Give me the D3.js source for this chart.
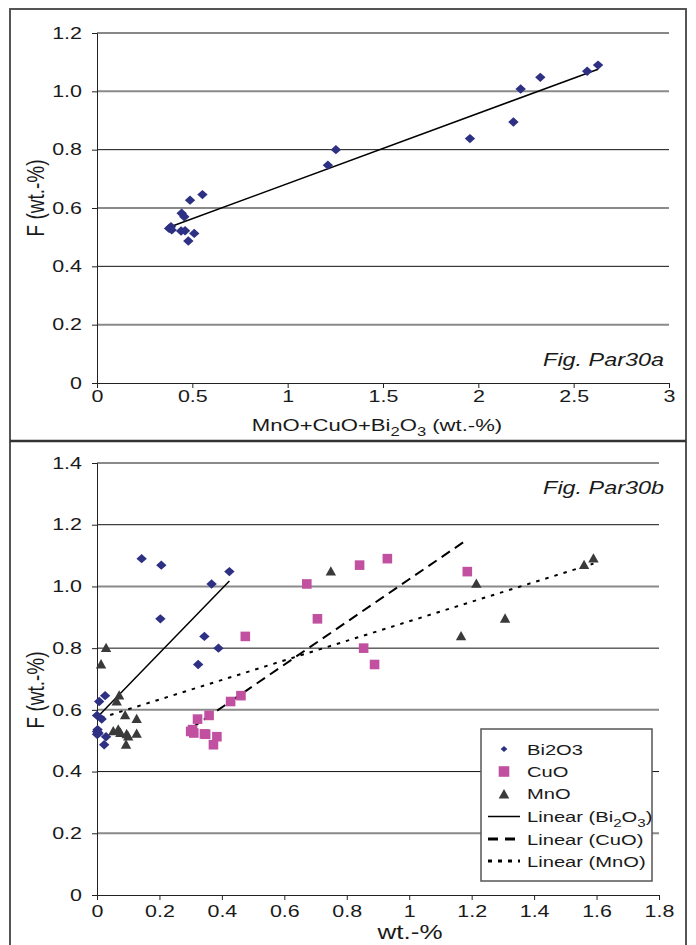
<!DOCTYPE html>
<html>
<head>
<meta charset="utf-8">
<script src="https://cdn.jsdelivr.net/npm/d3@7"></script>
<style>
  body { margin: 0; background: #fff; }
  svg { display: block; font-family: 'Liberation Sans', Arial, sans-serif; }
</style>
</head>
<body>
<svg id="chart"></svg>
<script>
// F content of each sample (wt.-%), same samples in both panels
const fluorine = [1.090, 1.069, 1.048, 1.008, 0.895, 0.838, 0.800, 0.747, 0.646, 0.627,
                  0.582, 0.570, 0.536, 0.530, 0.525, 0.522, 0.521, 0.513, 0.487];
// MnO+CuO+Bi2O3 sum (panel a)
const oxideSum = [2.628, 2.571, 2.325, 2.222, 2.184, 1.956, 1.253, 1.211, 0.553, 0.488,
                  0.444, 0.458, 0.388, 0.378, 0.392, 0.462, 0.441, 0.510, 0.479];
// single oxides (panel b)
const bi2o3 = [0.143, 0.206, 0.424, 0.367, 0.203, 0.344, 0.389, 0.324, 0.026, 0.007,
               0.000, 0.015, 0.002, 0.000, 0.005, 0.003, 0.000, 0.029, 0.023];
const cuo = [0.930, 0.841, 1.186, 0.672, 0.706, 0.475, 0.854, 0.889, 0.461, 0.428,
             0.359, 0.322, 0.306, 0.300, 0.310, 0.344, 0.348, 0.384, 0.373];
const mno = [1.590, 1.560, 0.749, 1.215, 1.307, 1.166, 0.029, 0.013, 0.071, 0.063,
             0.090, 0.127, 0.068, 0.052, 0.075, 0.127, 0.095, 0.100, 0.093];

const topXTicks = [0, 0.5, 1, 1.5, 2, 2.5, 3];
const topYTicks = [0, 0.2, 0.4, 0.6, 0.8, 1.0, 1.2];
const botXTicks = [0, 0.2, 0.4, 0.6, 0.8, 1.0, 1.2, 1.4, 1.6, 1.8];
const botYTicks = [0, 0.2, 0.4, 0.6, 0.8, 1.0, 1.2, 1.4];

const seriesNames = ['Bi2O3', 'CuO', 'MnO'];
const trendNames = [[['Linear (Bi'], ['2', 1], ['O'], ['3', 1], [')']],
                    [['Linear (CuO)']],
                    [['Linear (MnO)']]];

const width = 696;
const height = 945;
const SX = 1.3;   // the original figure's lettering is stretched sideways

const colors = { diamond: '#2E3083', square: '#C150A0', triangle: '#3A3A3A' };

const svg = d3.select('#chart').attr('width', width).attr('height', height);

// outer frame and panel divider
svg.append('rect')
    .attr('x', 10).attr('y', 9).attr('width', 676).attr('height', 960)
    .attr('fill', 'none').attr('stroke', '#555').attr('stroke-width', 2);
svg.append('line')
    .attr('x1', 10).attr('x2', 686).attr('y1', 441).attr('y2', 441)
    .attr('stroke', '#333').attr('stroke-width', 2.5);

// text with optional subscripts, stretched horizontally
const label = (parent, x, y, parts, opts = {}) => {
    let tf = `translate(${x},${y}) scale(${SX},1)`;
    if (opts.rotate) tf += ' rotate(-90)';
    const size = opts.size || 16;
    const t = parent.append('text')
        .attr('transform', tf)
        .attr('text-anchor', opts.anchor || 'start')
        .attr('font-size', size)
        .attr('font-style', opts.italic ? 'italic' : 'normal')
        .attr('fill', '#1a1a1a');
    let shifted = false;
    parts.forEach(p => {
        const ts = t.append('tspan').text(p[0]);
        if (p[1] && !shifted) { ts.attr('dy', size * 0.3).attr('font-size', size * 0.75); shifted = true; }
        else if (p[1]) { ts.attr('font-size', size * 0.75); }
        else if (shifted) { ts.attr('dy', -size * 0.3); shifted = false; }
    });
    return t;
};

const markerPath = (shape, s) => {
    if (shape === 'diamond') return `M0,${-s * 0.9}L${s},0L0,${s * 0.9}L${-s},0Z`;
    if (shape === 'square') return `M${-s},${-s}H${s}V${s}H${-s}Z`;
    return `M0,${-s * 1.05}L${s},${s * 0.75}L${-s},${s * 0.75}Z`;
};

const fit = (xs, ys) => {
    const mx = d3.mean(xs), my = d3.mean(ys);
    const b = d3.sum(xs, (x, i) => (x - mx) * (ys[i] - my)) / d3.sum(xs, x => (x - mx) ** 2);
    const a = my - b * mx;
    const [x0, x1] = d3.extent(xs);
    return [[x0, a + b * x0], [x1, a + b * x1]];
};

const tickFmt = d => d === 0 ? '0' : String(+d.toFixed(1));
const yFmt = d => d === 0 ? '0' : d3.format('.1f')(d);

const drawPanel = (p) => {
    const g = svg.append('g');
    const x = d3.scaleLinear().domain(p.xDomain).range(p.xRange);
    const y = d3.scaleLinear().domain(p.yDomain).range(p.yRange);

    // grid
    g.selectAll('.grid')
        .data(p.yTicks.slice(1))
        .enter().append('line')
        .attr('x1', p.xRange[0]).attr('x2', p.xRange[1])
        .attr('y1', d => y(d)).attr('y2', d => y(d))
        .attr('stroke', (d, i) => i % 2 === 0 ? '#8a8a8a' : '#111')
        .attr('stroke-width', (d, i) => i % 2 === 0 ? 2 : 1);

    const yAxis = g.append('g')
        .attr('transform', `translate(${p.xRange[0]},0)`)
        .call(d3.axisLeft(y).tickValues(p.yTicks).tickSize(5).tickFormat(yFmt));
    const xAxis = g.append('g')
        .attr('transform', `translate(0,${p.yRange[0]})`)
        .call(d3.axisBottom(x).tickValues(p.xTicks).tickSize(5).tickFormat(tickFmt));

    [yAxis, xAxis].forEach(ax => {
        ax.select('.domain').attr('stroke', '#222');
        ax.selectAll('.tick line').attr('stroke', '#222');
        ax.selectAll('text').attr('font-size', 16.5).attr('fill', '#1a1a1a')
            .attr('font-family', "'Liberation Sans', Arial, sans-serif");
    });
    yAxis.selectAll('text').attr('x', -15 / SX).attr('transform', `scale(${SX},1)`);
    xAxis.selectAll('text').attr('y', p.xLabelOffset).attr('transform', `scale(${SX},1)`);

    return { g, x, y };
};

// ---------- panel a ----------
const a = drawPanel({
    xDomain: [0, 3], xRange: [97, 669],
    yDomain: [0, 1.2], yRange: [383, 33],
    xTicks: topXTicks, yTicks: topYTicks, xLabelOffset: 7
});

const fitA = fit(oxideSum, fluorine);
a.g.append('line')
    .attr('x1', a.x(fitA[0][0])).attr('y1', a.y(fitA[0][1]))
    .attr('x2', a.x(fitA[1][0])).attr('y2', a.y(fitA[1][1]))
    .attr('stroke', '#000').attr('stroke-width', 1.5);

a.g.selectAll('.pa')
    .data(oxideSum)
    .enter().append('path')
    .attr('d', markerPath('diamond', 5.2))
    .attr('transform', (d, i) => `translate(${a.x(d)},${a.y(fluorine[i])})`)
    .attr('fill', colors.diamond);

label(svg, 377, 431, [['MnO+CuO+Bi'], ['2', 1], ['O'], ['3', 1], [' (wt.-%)']], { anchor: 'middle', size: 17 });
label(svg, 44, 198, [['F (wt.-%)']], { anchor: 'middle', size: 19, rotate: true });
label(svg, 664, 366, [['Fig. Par30a']], { anchor: 'end', size: 18, italic: true });

// ---------- panel b ----------
const b = drawPanel({
    xDomain: [0, 1.8], xRange: [97, 659],
    yDomain: [0, 1.4], yRange: [895, 463],
    xTicks: botXTicks, yTicks: botYTicks, xLabelOffset: 10
});

const series = [
    { name: seriesNames[0], values: bi2o3, shape: 'diamond', color: colors.diamond, dash: null, size: 5.2 },
    { name: seriesNames[1], values: cuo, shape: 'square', color: colors.square, dash: '10,6', size: 4.8 },
    { name: seriesNames[2], values: mno, shape: 'triangle', color: colors.triangle, dash: '3.5,6', size: 5.2 }
];

series.forEach(s => {
    const f = fit(s.values, fluorine);
    b.g.append('line')
        .attr('x1', b.x(f[0][0])).attr('y1', b.y(f[0][1]))
        .attr('x2', b.x(f[1][0])).attr('y2', b.y(f[1][1]))
        .attr('stroke', '#000').attr('stroke-width', s.dash ? 2 : 1.5)
        .attr('stroke-dasharray', s.dash);
});

series.forEach(s => {
    b.g.selectAll('.m-' + s.shape)
        .data(s.values)
        .enter().append('path')
        .attr('d', markerPath(s.shape, s.size))
        .attr('transform', (d, i) => `translate(${b.x(d)},${b.y(fluorine[i])})`)
        .attr('fill', s.color);
});

label(svg, 410, 939, [['wt.-%']], { anchor: 'middle', size: 20 });
label(svg, 44, 690, [['F (wt.-%)']], { anchor: 'middle', size: 19, rotate: true });
label(svg, 664, 494, [['Fig. Par30b']], { anchor: 'end', size: 18, italic: true });

// legend
const lg = svg.append('g');
lg.append('rect')
    .attr('x', 481).attr('y', 729).attr('width', 171).attr('height', 152)
    .attr('fill', '#fff').attr('stroke', '#555').attr('stroke-width', 1.5);
const rowY = [749, 771.5, 793.5, 816.5, 839, 861];
const legendSizes = [3.4, 5.3, 5.3];
series.forEach((s, i) => {
    lg.append('path')
        .attr('d', markerPath(s.shape, legendSizes[i]))
        .attr('transform', `translate(504,${rowY[i] + (s.shape === 'triangle' ? 1 : 0)})`)
        .attr('fill', s.color);
    label(lg, 527, rowY[i] + 5.5, [[s.name]], { size: 15.5 });
});
series.forEach((s, i) => {
    const yy = rowY[i + 3];
    lg.append('line')
        .attr('x1', 488).attr('x2', 520).attr('y1', yy).attr('y2', yy)
        .attr('stroke', '#000').attr('stroke-width', s.dash ? 3 : 1.5)
        .attr('stroke-dasharray', s.dash ? (s.shape === 'square' ? '10,7' : '4,6') : null);
    label(lg, 527, yy + 5.5, trendNames[i], { size: 15.5 });
});
</script>
</body>
</html>
